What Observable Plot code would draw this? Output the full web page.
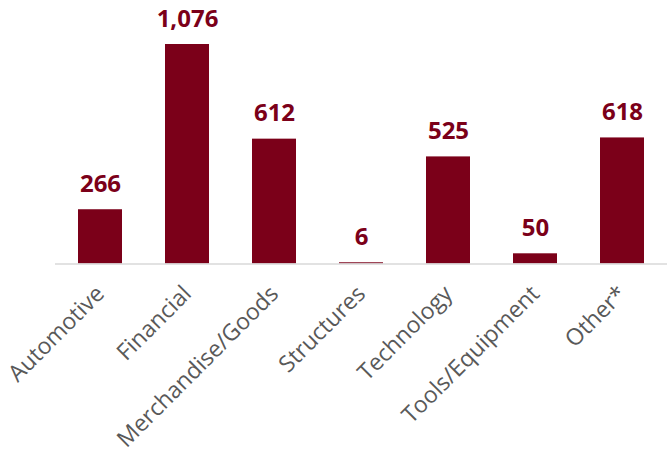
<!DOCTYPE html>
<html>
<head>
<meta charset="utf-8">
<script src="https://cdn.jsdelivr.net/npm/d3@7"></script>
<script src="https://cdn.jsdelivr.net/npm/@observablehq/plot@0.6"></script>
<style>
  html, body { margin: 0; padding: 0; background: #fff; }
</style>
</head>
<body>
<div id="chart"></div>
<script>
const categories = ["Automotive", "Financial", "Merchandise/Goods", "Structures", "Technology", "Tools/Equipment", "Other*"];
const values = [266, 1076, 612, 6, 525, 50, 618];

const data = categories.map((c, i) => ({category: c, value: values[i]}));
const barColor = "#7b0019";

const chart = Plot.plot({
  width: 671,
  height: 459,
  marginTop: 44,
  marginBottom: 195.5,
  marginLeft: 55,
  marginRight: 4,
  style: {fontFamily: "'Open Sans', sans-serif", background: "#fff"},
  x: {domain: categories, paddingInner: 0.5, paddingOuter: 0.25, label: null},
  y: {domain: [0, 1076], axis: null},
  marks: [
    Plot.barY(data, {x: "category", y: "value", fill: barColor}),
    Plot.ruleY([0], {stroke: "#d9d9d9", strokeWidth: 1.5}),
    Plot.text(data, {
      x: "category", y: "value",
      text: d => d3.format(",")(d.value),
      fill: barColor, fontWeight: "bold", fontSize: 24,
      lineAnchor: "bottom", dy: -18
    }),
    Plot.axisX({
      tickSize: 0, tickPadding: 26, tickRotate: -45,
      fontSize: 23, fill: "#595959", label: null
    })
  ]
});
document.getElementById("chart").appendChild(chart);
</script>
</body>
</html>
